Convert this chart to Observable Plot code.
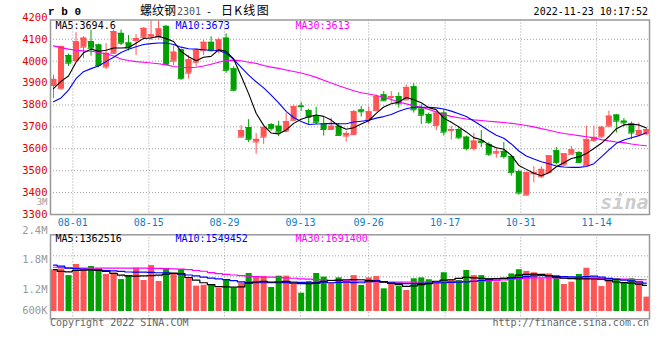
<!DOCTYPE html>
<html><head><meta charset="utf-8">
<script src="https://cdn.jsdelivr.net/npm/d3@7"></script>
<script src="https://cdn.jsdelivr.net/npm/@observablehq/plot@0.6"></script>
<style>
html,body{margin:0;padding:0;background:#fff;}
#chart{position:relative;width:660px;height:360px;overflow:hidden;background:#fff;}
#chart svg{position:absolute;left:0;}
</style></head><body><div id="chart"></div>
<script>
// ---- daily candles (index 0 = 07-27 ... 79 = 11-23) ----
const opens  = [3889,3874,4026,4003,4064,4089,4074,3973,4036,4127, 4083,4094,4109,4110,4109,4159,4000,4052,3945,3995, 4048,4086,4048,4105,3965,3653,3697,3631,3653,3710, 3703,3680,3730,3795,3774,3748,3714,3688,3703,3658, 3665,3777,3733,3774,3846,3834,3838,3823,3883,3781, 3756,3706,3763,3683,3688,3653,3601,3635,3620,3580, 3588,3565,3495,3388,3486,3472,3491,3591,3526,3575, 3583,3523,3638,3654,3703,3754,3726,3714,3665,3668];
const highs  = [3936,4070,4032,4130,4112,4142,4078,4080,4142,4142, 4117,4121,4152,4185,4185,4163,4070,4056,4026,4056, 4094,4112,4105,4125,3974,3706,3733,3670,3698,3715, 3726,3763,3799,3811,3781,3790,3745,3740,3715,3680, 3775,3793,3790,3846,3861,3861,3856,3891,3898,3801, 3763,3771,3778,3703,3703,3658,3670,3683,3628,3603, 3629,3570,3503,3495,3518,3518,3568,3606,3577,3611, 3588,3703,3703,3703,3772,3757,3738,3722,3718,3691];
const lows   = [3829,3868,3976,3995,4011,4023,3970,3962,4030,4071, 4046,4026,4105,4095,4100,3980,3980,3913,3918,3974, 4026,4041,4034,3944,3860,3650,3628,3575,3620,3680, 3655,3673,3726,3771,3711,3711,3658,3688,3658,3631, 3660,3745,3711,3771,3816,3808,3786,3820,3763,3711, 3711,3683,3658,3640,3643,3590,3590,3605,3565,3557, 3552,3475,3388,3388,3445,3465,3491,3526,3518,3572, 3534,3523,3629,3649,3700,3672,3700,3642,3660,3660];
const closes = [3917,4067,3991,4089,4105,4059,3980,4036,4135,4082, 4061,4103,4150,4120,4147,3985,4041,3920,4006,4048, 4086,4048,4097,3958,3867,3683,3643,3643,3698,3692, 3676,3724,3792,3793,3744,3721,3688,3703,3661,3670, 3769,3769,3769,3838,3819,3838,3805,3880,3778,3753, 3721,3763,3676,3688,3650,3601,3635,3628,3575,3586, 3565,3491,3398,3491,3492,3506,3568,3537,3577,3595, 3537,3642,3652,3698,3749,3726,3718,3672,3683,3688];
// ---- price moving averages as drawn ----
const ma5  = [3875,3908,3932,3995,4038,4055,4045,4050,4060,4060, 4062,4082,4104,4106,4114,4103,4090,4045,4020,4002, 4018,4022,4052,4045,4010,3932,3852,3762,3707,3672, 3668,3686,3716,3735,3746,3754,3748,3731,3704,3689, 3696,3713,3728,3762,3791,3806,3813,3834,3824,3810, 3788,3778,3740,3721,3700,3677,3651,3641,3619,3605, 3598,3570,3524,3506,3488,3477,3491,3518,3536,3556, 3563,3578,3601,3625,3656,3692,3709,3712,3709,3695];
const ma10 = [3815,3832,3868,3920,3952,3966,3978,3998,4018,4040, 4054,4066,4076,4080,4083,4083,4076,4064,4057,4055, 4052,4050,4049,4036,4008,3972,3936,3906,3878,3845, 3810,3771,3743,3725,3711,3713,3714,3716,3714,3714, 3722,3726,3730,3740,3747,3757,3771,3783,3790,3790, 3790,3787,3782,3772,3760,3747,3727,3705,3682,3662, 3648,3622,3590,3567,3553,3541,3532,3521,3517,3515, 3515,3519,3532,3563,3595,3625,3640,3650,3660,3673];
const ma30 = [4070,4062,4055,4050,4047,4045,4040,4034,4024,4010, 4003,3998,3995,3992,3988,3983,3976,3972,3970,3972, 3978,3986,3995,4003,4005,4002,3995,3990,3980,3973, 3967,3960,3953,3946,3937,3926,3913,3900,3888,3876, 3865,3856,3850,3843,3835,3825,3814,3805,3797,3790, 3780,3768,3756,3748,3742,3736,3732,3729,3726,3723, 3720,3716,3712,3706,3700,3692,3685,3677,3670,3665, 3660,3655,3650,3642,3636,3631,3628,3622,3617,3614];
// ---- volume (millions) and its moving averages as drawn ----
const volumes = [2.21,2.26,1.90,2.49,2.21,2.38,2.26,1.96,2.03,1.69, 1.90,2.29,1.64,2.43,1.59,2.22,1.99,2.22,1.80,1.34, 1.39,1.38,1.23,1.69,1.23,1.50,2.01,1.82,1.85,1.27, 1.87,1.87,1.44,0.97,1.59,2.01,1.82,1.50,1.78,1.60, 1.90,1.38,1.78,1.85,1.20,1.52,1.32,1.11,1.73,1.78, 1.68,1.47,2.05,1.68,1.64,2.17,1.90,1.90,1.73,1.55, 1.55,1.99,2.21,2.12,2.05,1.73,1.99,1.90,1.43,1.55, 1.96,2.29,1.82,1.32,1.73,1.73,1.50,1.73,1.55,0.76];
const volMa5  = [2.22,2.12,2.10,2.17,2.19,2.20,2.17,2.12,2.02,1.92, 1.88,1.87,1.88,1.90,1.92,1.97,2.03,2.00,1.80,1.66, 1.52,1.42,1.32,1.30,1.29,1.30,1.50,1.56,1.59,1.55, 1.57,1.59,1.50,1.47,1.47,1.50,1.60,1.64,1.66,1.68, 1.69,1.68,1.65,1.60,1.55,1.49,1.42,1.33,1.36,1.42, 1.48,1.60,1.66,1.68,1.75,1.81,1.78,1.76,1.73,1.74, 1.75,1.80,1.92,1.96,1.98,1.96,1.90,1.82,1.76,1.74, 1.73,1.73,1.72,1.70,1.63,1.56,1.53,1.50,1.45,1.38];
const volMa10 = [2.45,2.40,2.30,2.27,2.25,2.22,2.20,2.17,2.15,2.12, 2.09,2.08,2.08,2.07,2.05,2.04,2.01,1.98,1.93,1.88, 1.82,1.77,1.73,1.69,1.63,1.57,1.54,1.52,1.52,1.52, 1.52,1.53,1.55,1.54,1.52,1.53,1.55,1.52,1.54,1.55, 1.53,1.52,1.58,1.63,1.58,1.52,1.49,1.47,1.47,1.49, 1.50,1.51,1.52,1.54,1.55,1.57,1.60,1.64,1.68,1.72, 1.75,1.77,1.79,1.84,1.88,1.90,1.88,1.86,1.85,1.83, 1.82,1.84,1.87,1.82,1.75,1.70,1.66,1.62,1.57,1.50];
const volMa30 = [2.34,2.33,2.31,2.30,2.29,2.29,2.29,2.29,2.29,2.29, 2.29,2.29,2.29,2.28,2.28,2.27,2.26,2.24,2.22,2.17, 2.13,2.06,2.00,1.96,1.93,1.90,1.87,1.84,1.82,1.82, 1.81,1.78,1.76,1.73,1.71,1.69,1.67,1.65,1.64,1.62, 1.61,1.60,1.59,1.58,1.57,1.56,1.55,1.55,1.55,1.56, 1.57,1.57,1.58,1.58,1.59,1.60,1.61,1.62,1.63,1.64, 1.67,1.71,1.74,1.77,1.78,1.78,1.78,1.78,1.78,1.78, 1.77,1.76,1.75,1.74,1.73,1.72,1.71,1.70,1.69,1.68];
// ---- axes / labels ----
const priceTicks = [3300,3400,3500,3600,3700,3800,3900,4000,4100,4200];
const priceGrid  = [3400,3500,3600,3700,3800,3900,4000,4100];
const dateTicks  = [2.57,12.7,22.79,32.92,41.99,52.18,62.25,72.37]; // in trading-day index units
const dateLabels = ["08-01","08-15","08-29","09-13","09-26","10-17","10-31","11-14"];
const volAxisTicks  = [4.26,2.72,1.14,0.05]; // where Sina prints its volume labels
const volAxisLabels = ["2.4M","1.8M","1.2M","600K"];
const priceMaText = ["MA5:3694.6","MA10:3673","MA30:3613"];
const volMaText   = ["MA5:1362516","MA10:1549452","MA30:1691400"];

const MONO = "DejaVu Sans Mono";
const RED = "#ff5555", GREEN = "#00a000", GRID = "#a0a0a0";
const xDomain = [-0.4, 79.41];
const candles = opens.map((o,i)=>({i, o, h:highs[i], l:lows[i], c:closes[i]}));
const col = d => d.c >= d.o ? RED : GREEN;
const bars = volumes.map((v,i)=>({i, v, o:opens[i], c:closes[i]}));
const dotted = {stroke: GRID, strokeOpacity: 1, strokeDasharray: "1,2"};
const maLabel = (txt, i, color, dy) => Plot.text([txt], {frameAnchor:"top-left", dx: 5 + i*120, dy, lineAnchor:"top", textAnchor:"start", fill: color, fontSize: 10});
const maColors = ["#000000","#0000ff","#ff00ff"];

const main = Plot.plot({
  width: 660, height: 230,
  marginLeft: 50, marginRight: 11, marginTop: 19.5, marginBottom: 16,
  x: {domain: xDomain},
  y: {domain: [3300, 4188]},
  color: {type: "identity"},
  style: {fontFamily: MONO, fontSize: "10px", background: "transparent", overflow: "visible"},
  marks: [
    Plot.gridY(priceGrid, dotted),
    Plot.gridX(dateTicks, dotted),
    Plot.text(["sina"], {frameAnchor:"bottom-right", dx:-1, dy:-6, fontSize:20, fontWeight:"bold", fontStyle:"italic", fill:"#cccccc", textAnchor:"end"}),
    Plot.ruleX(candles, {x:"i", y1:"l", y2:"h", stroke: col}),
    Plot.ruleX(candles, {x:"i", y1:"o", y2:"c", stroke: col, strokeWidth: 6}),
    Plot.ruleY(candles, {x1: d=>d.i-0.4, x2: d=>d.i+0.4, y:"c", stroke: col}),
    Plot.ruleY(candles, {x1: d=>d.i-0.4, x2: d=>d.i+0.4, y:"o", stroke: col}),
    Plot.lineY(ma30, {x:(d,i)=>i, y:d=>d, stroke:"#ff00ff", strokeWidth:1.1}),
    Plot.lineY(ma10, {x:(d,i)=>i, y:d=>d, stroke:"#0000ff", strokeWidth:1.1}),
    Plot.lineY(ma5,  {x:(d,i)=>i, y:d=>d, stroke:"#000000", strokeWidth:1.1}),
    Plot.frame({stroke:"#999", strokeWidth:1.5}),
    Plot.axisY(priceTicks, {tickSize:0, tickPadding:3, tickFormat: d => String(d), fill:"#e00000", fontSize:10.5, label:null}),
    Plot.axisY([3356], {tickSize:0, tickPadding:3, tickFormat:()=>"3M", fill:"#999", fontSize:9, label:null}),
    Plot.axisX(dateTicks, {tickSize:0, tickPadding:4, tickFormat: d => dateLabels[dateTicks.indexOf(d)], fill:"#0a7fc8", fontSize:10, label:null}),
    ...priceMaText.map((t,k)=>maLabel(t, k, maColors[k], 1.7))
  ]
});
main.style.top = "0px";

const volDomain = [-0.386, 4.058];
const volGrid = d3.range(1,4).map(k => volDomain[0] + k*(volDomain[1]-volDomain[0])/4);
const vol = Plot.plot({
  width: 660, height: 100,
  marginLeft: 50, marginRight: 11, marginTop: 8.3, marginBottom: 7.7,
  x: {domain: xDomain, axis: null},
  y: {domain: volDomain},
  color: {type: "identity"},
  style: {fontFamily: MONO, fontSize: "10px", background: "transparent", overflow: "visible"},
  marks: [
    Plot.gridY(volGrid, dotted),
    Plot.gridX(dateTicks, dotted),
    Plot.ruleX(bars, {x:"i", y1:0, y2:"v", stroke: col, strokeWidth: 6}),
    Plot.lineY(volMa30, {x:(d,i)=>i, y:d=>d, curve:"step", stroke:"#ff00ff", strokeWidth:1.2}),
    Plot.lineY(volMa10, {x:(d,i)=>i, y:d=>d, curve:"step", stroke:"#0000ff", strokeWidth:1.2}),
    Plot.lineY(volMa5,  {x:(d,i)=>i, y:d=>d, curve:"step", stroke:"#000000", strokeWidth:1.2}),
    Plot.frame({stroke:"#999", strokeWidth:1.5}),
    Plot.axisY(volAxisTicks, {tickSize:0, tickPadding:3, tickFormat: d => volAxisLabels[volAxisTicks.indexOf(d)], fill:"#999", fontSize:10.5, label:null}),
    ...volMaText.map((t,k)=>maLabel(t, k, maColors[k], 0.4))
  ]
});
vol.style.top = "226px";

const chart = document.getElementById("chart");
chart.appendChild(main);
chart.appendChild(vol);

// header & footer text
const ns = "http://www.w3.org/2000/svg";
const ov = document.createElementNS(ns, "svg");
ov.setAttribute("width", 660); ov.setAttribute("height", 360);
ov.style.top = "0px"; ov.style.pointerEvents = "none";
ov.innerHTML = `
<text x="48" y="15" font-family="Liberation Mono" font-weight="bold" font-size="11" fill="#000">r b 0</text>
<text y="14.5" font-family="Noto Sans CJK SC" font-size="12" fill="#000">
  <tspan x="140">螺纹钢</tspan><tspan x="177" font-family="${MONO}" font-size="10" fill="#555">2301</tspan><tspan x="206" font-family="${MONO}" font-size="10">-</tspan><tspan x="221" letter-spacing="1.3">日K线图</tspan>
</text>
<text x="648" y="15" text-anchor="end" font-family="${MONO}" font-size="10" fill="#000">2022-11-23 10:17:52</text>
<text x="50" y="326.3" font-family="${MONO}" font-size="10" fill="#666">Copyright 2022 SINA.COM</text>
<text x="649" y="326.3" text-anchor="end" font-family="${MONO}" font-size="10" fill="#666">http://finance.sina.com.cn</text>
`;
chart.appendChild(ov);
</script></body></html>
